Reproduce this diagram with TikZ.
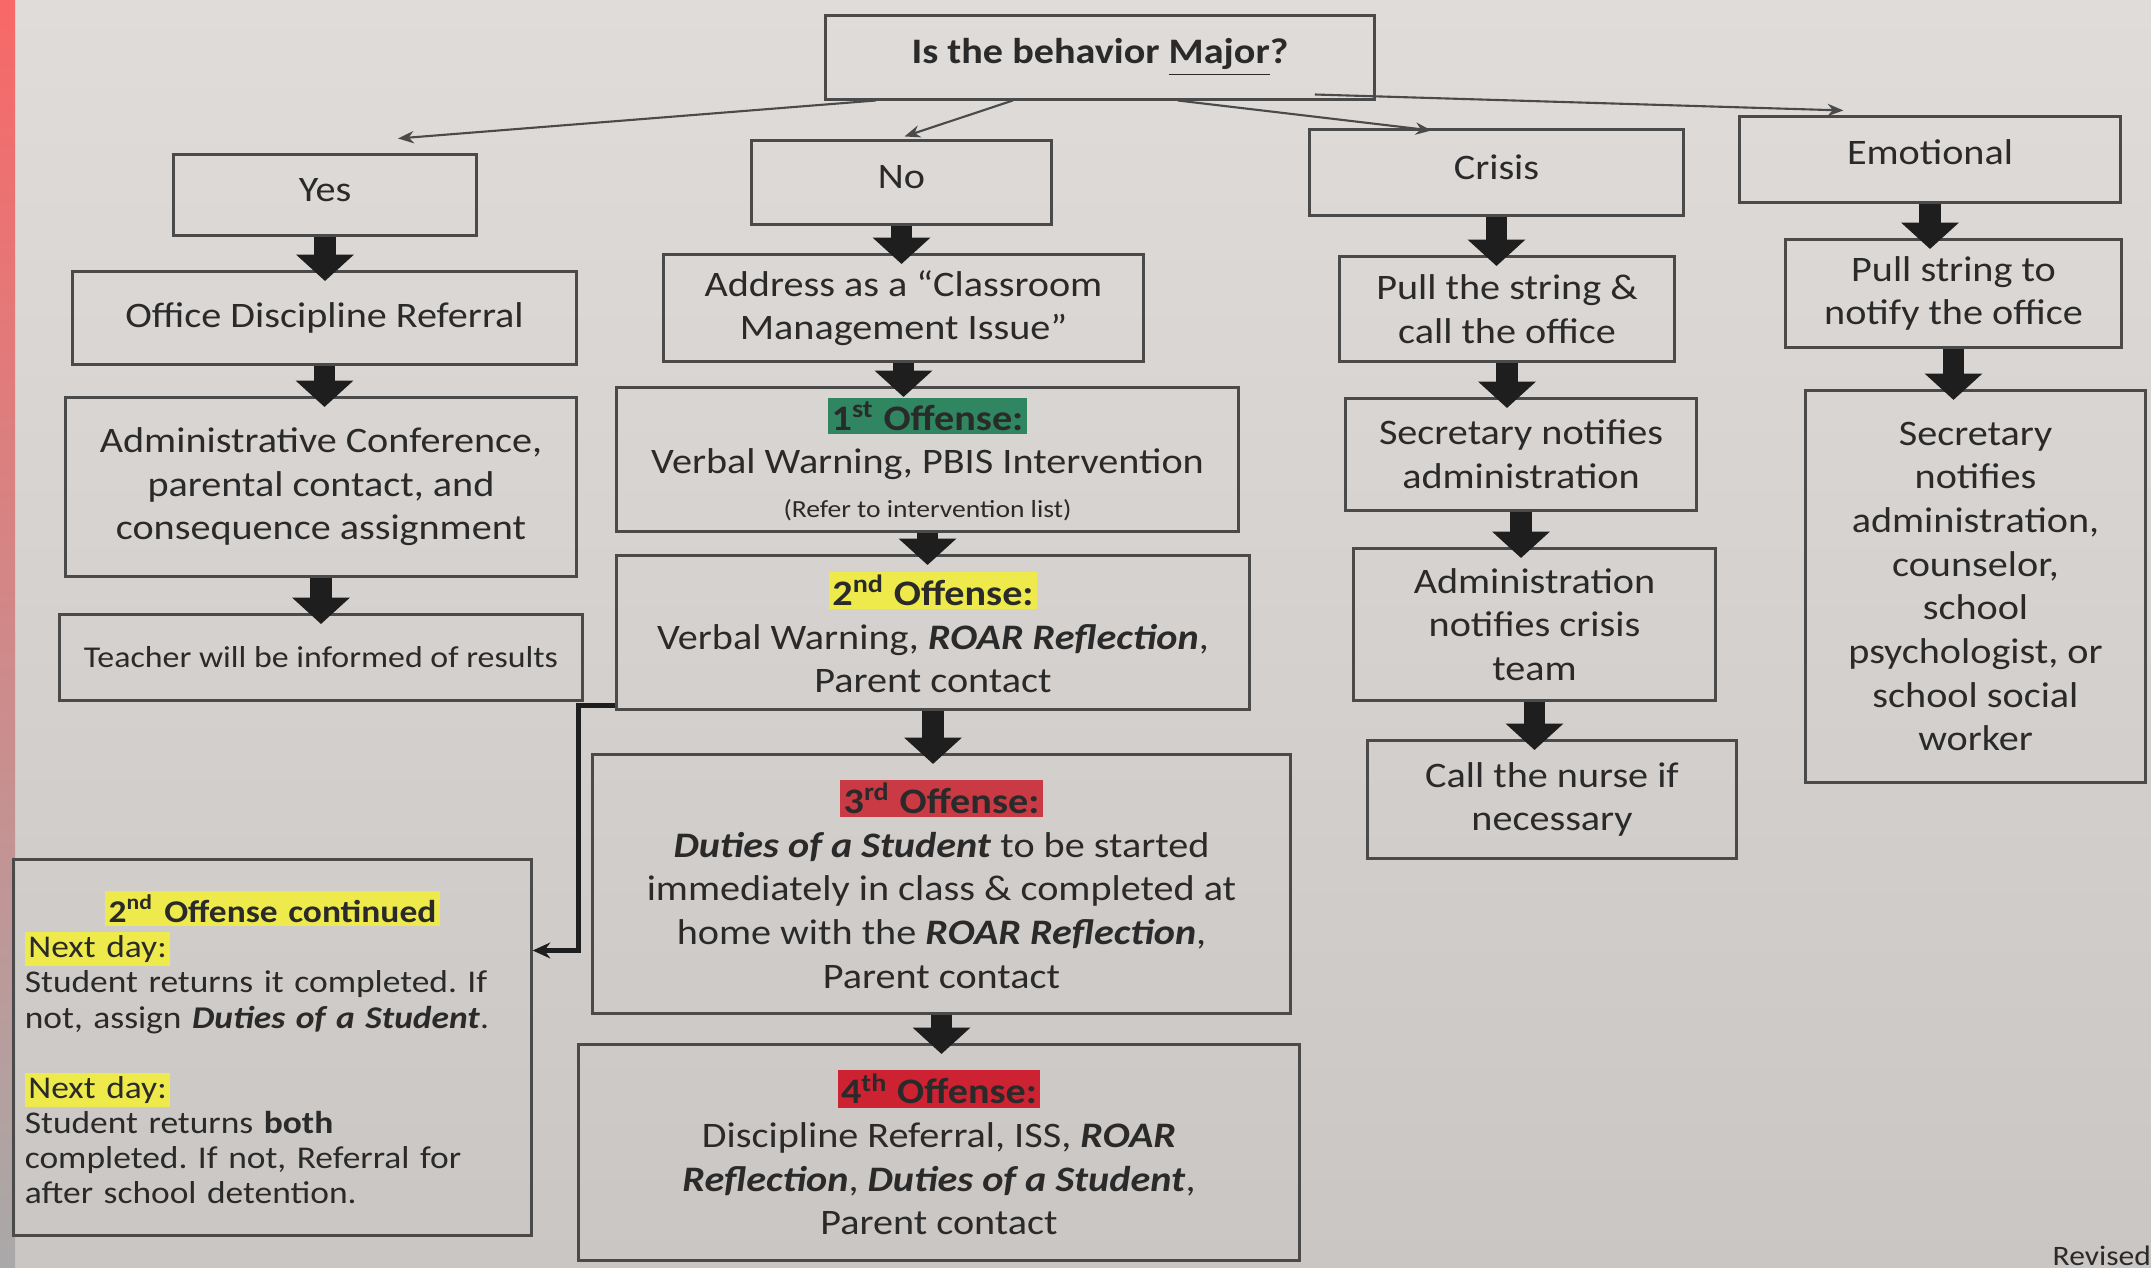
\documentclass[tikz,border=0pt]{standalone}
\usepackage{fontspec}
\setmainfont{Carlito}[FakeStretch=1.12]
\usetikzlibrary{arrows.meta,calc}
\definecolor{ink}{HTML}{2A2A2A}
\definecolor{boxline}{HTML}{4A4A4A}
\definecolor{arrowink}{HTML}{1E1E1E}
\definecolor{hlgreen}{HTML}{2F8660}
\definecolor{hlyellow}{HTML}{EEEA4C}
\definecolor{hlred}{HTML}{C93A44}
\definecolor{hlred4}{HTML}{CC2232}
\definecolor{papertop}{RGB}{223,220,217}
\definecolor{paperbot}{RGB}{202,198,195}
\newcommand{\hlbox}[2]{{\setlength{\fboxsep}{1pt}\colorbox{#1}{#2}}}
\newcommand{\bfit}[1]{\textbf{\textit{#1}}}
\newcommand{\mainsize}{\fontsize{10.2}{12.4}\selectfont}
\newcommand{\smallsize}{\fontsize{8.6}{10}\selectfont}
\newcommand{\tinysize}{\fontsize{7}{8}\selectfont}
\newcommand{\contsize}{\fontsize{9}{10}\selectfont}
\frenchspacing
\begin{document}
\begin{tikzpicture}[x=0.01cm,y=-0.01cm,
  box/.style={draw=boxline, line width=0.85pt, align=center, inner sep=2pt, text=ink, font=\mainsize},
  bigarrow/.style={draw=arrowink, line width=6pt, -{Triangle[length=7.5pt,width=16pt]}, shorten >=-3pt},
  thinarrow/.style={draw=boxline, line width=0.6pt, -{Stealth[length=4.5pt,width=3.5pt]}},
  bentarrow/.style={draw=arrowink, line width=1.4pt, -{Stealth[length=5pt,width=4.5pt]}}]
\useasboundingbox (0,0) rectangle (2151,1268);
\shade[top color=papertop, bottom color=paperbot] (0,0) rectangle (2151,1268);
\shade[top color={rgb,255:red,248;green,104;blue,104}, middle color={rgb,255:red,233;green,185;blue,186}, bottom color={rgb,255:red,169;green,169;blue,169}] (0,0) rectangle (15,1268);

% top
\node[box, minimum width=5.49cm, minimum height=0.83cm, font=\mainsize\bfseries] (top) at (1100,57.5) {Is the behavior \underline{Major}?};
% level 1
\node[box, minimum width=3.02cm, minimum height=0.80cm] (yes) at (325,195) {\raisebox{3pt}{Yes}};
\node[box, minimum width=2.99cm, minimum height=0.83cm] (no) at (901.5,182.5) {\raisebox{3pt}{No}};
\node[box, minimum width=3.73cm, minimum height=0.85cm] (crisis) at (1496.5,172.5) {\raisebox{3pt}{Crisis}};
\node[box, minimum width=3.80cm, minimum height=0.85cm] (emo) at (1930,159.5) {\raisebox{4pt}{Emotional}};
% yes column
\node[box, minimum width=5.03cm, minimum height=0.92cm] (odr) at (324.5,318) {Office Discipline Referral};
\node[box, minimum width=5.10cm, minimum height=1.78cm] (adm) at (321,487) {Administrative Conference,\\ parental contact, and\\ consequence assignment};
\node[box, minimum width=5.22cm, minimum height=0.85cm, font=\smallsize] (teach) at (321,657.5) {Teacher will be informed of results};
% no column
\node[box, minimum width=4.79cm, minimum height=1.06cm] (addr) at (903.5,308) {Address as a “Classroom\\ Management Issue”};
\node[box, minimum width=6.21cm, minimum height=1.43cm] (off1) at (927.5,459.5) {\hlbox{hlgreen}{\textbf{1\textsuperscript{st} Offense:}}\\ Verbal Warning, PBIS Intervention\\ {\tinysize (Refer to intervention list)}};
\node[box, minimum width=6.32cm, minimum height=1.53cm] (off2) at (933,632.5) {\hlbox{hlyellow}{\textbf{2\textsuperscript{nd} Offense:}}\\ Verbal Warning, \bfit{ROAR Reflection},\\ Parent contact};
\node[box, minimum width=6.97cm, minimum height=2.58cm] (off3) at (941.5,884) {\hlbox{hlred}{\textbf{3\textsuperscript{rd} Offense:}}\\ \bfit{Duties of a Student} to be started\\ immediately in class \& completed at\\ home with the \bfit{ROAR Reflection},\\ Parent contact};
\node[box, minimum width=7.20cm, minimum height=2.15cm] (off4) at (939,1152.5) {\hlbox{hlred4}{\textbf{4\textsuperscript{th} Offense:}}\\ Discipline Referral, ISS, \bfit{ROAR}\\ \bfit{Reflection}, \bfit{Duties of a Student},\\ Parent contact};
\node[box, minimum width=5.17cm, minimum height=3.75cm, text width=4.95cm, align=left, font=\contsize] (cont) at (272.5,1047.5) {\makebox[\linewidth][c]{\hlbox{hlyellow}{\textbf{2\textsuperscript{nd} Offense continued}}}\\ \hlbox{hlyellow}{Next day:}\\ Student returns it completed. If\\ not, assign \bfit{Duties of a Student}.\\[10pt] \hlbox{hlyellow}{Next day:}\\ Student returns \textbf{both}\\ completed. If not, Referral for\\ after school detention.};
% crisis column
\node[box, minimum width=3.34cm, minimum height=1.04cm] (pull) at (1507,309) {Pull the string \&\\ call the office};
\node[box, minimum width=3.50cm, minimum height=1.11cm] (sec) at (1521,454.5) {Secretary notifies\\ administration};
\node[box, minimum width=3.61cm, minimum height=1.51cm] (admc) at (1534.5,624.5) {Administration\\ notifies crisis\\ team};
\node[box, minimum width=3.68cm, minimum height=1.17cm] (nurse) at (1552,799.5) {Call the nurse if\\ necessary};
% emotional column
\node[box, minimum width=3.35cm, minimum height=1.07cm] (pull2) at (1953.5,293.5) {Pull string to\\ notify the office};
\node[box, minimum width=3.39cm, minimum height=3.91cm] (sec2) at (1975.5,586.5) {Secretary\\ notifies\\ administration,\\ counselor,\\ school\\ psychologist, or\\ school social\\ worker};

\node[anchor=west, text=ink, font=\fontsize{8}{9}\selectfont, inner sep=0pt] (rev) at (2052,1256) {Revised};

% thin arrows from the question
\draw[thinarrow] ($(top.south west)+(52,0)$) -- ($(yes.north)+(73,-15)$);
\draw[thinarrow] ($(top.south west)+(189,0)$) -- ($(no.north)+(3,-3)$);
\draw[thinarrow] ($(top.south west)+(354,0)$) -- ($(crisis.north west)+(123,2)$);
\draw[thinarrow] ($(top.south west)+(491,-6)$) -- ($(emo.north west)+(105,-5)$);

% big arrows
\draw[bigarrow] (yes.south) -- (yes.south |- odr.north);
\draw[bigarrow] (odr.south) -- (odr.south |- adm.north);
\draw[bigarrow] (adm.south) -- (adm.south |- teach.north);
\draw[bigarrow] (no.south) -- (no.south |- addr.north);
\draw[bigarrow] (addr.south) -- (addr.south |- off1.north);
\draw[bigarrow] (off1.south) -- (off1.south |- off2.north);
\draw[bigarrow] (off2.south) -- (off2.south |- off3.north);
\draw[bigarrow] (off3.south) -- (off3.south |- off4.north);
\draw[bigarrow] (crisis.south) -- (crisis.south |- pull.north);
\draw[bigarrow] (pull.south) -- (pull.south |- sec.north);
\draw[bigarrow] (sec.south) -- (sec.south |- admc.north);
\draw[bigarrow] (admc.south) -- (admc.south |- nurse.north);
\draw[bigarrow] (emo.south) -- (emo.south |- pull2.north);
\draw[bigarrow] (pull2.south) -- (pull2.south |- sec2.north);

% bent connector
\coordinate (bstart) at ($(off2.south west)+(0,-5)$);
\coordinate (bend) at ($(cont.east)+(0,-97)$);
\draw[bentarrow] (bstart) -- ++(-37,0) |- (bend);
\end{tikzpicture}
\end{document}
